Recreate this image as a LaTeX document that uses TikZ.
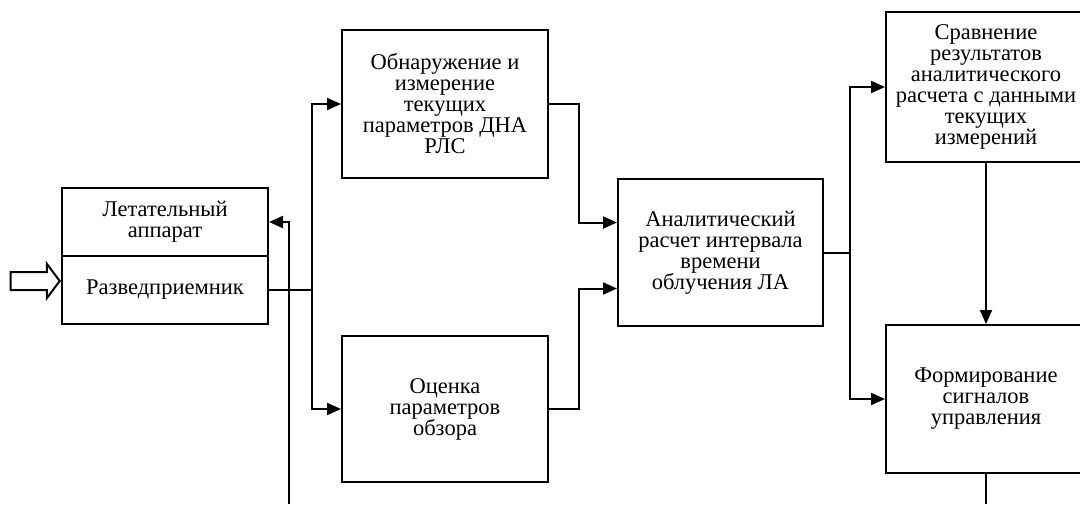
\documentclass[tikz,border=0pt]{standalone}
\usepackage{fontspec}
\setmainfont{Liberation Serif}
\usetikzlibrary{arrows.meta,shapes.arrows}
\tikzset{
  block/.style={draw, line width=2pt, align=center, inner sep=2pt,
    font=\fontsize{22.5}{21}\selectfont},
  link/.style={line width=2pt},
  arr/.style={link, -{Triangle[length=14pt,width=12pt]}}
}
\begin{document}
\begin{tikzpicture}[x=1pt, y=-1pt]
  \useasboundingbox (0,0) rectangle (1080,504);

  % Define blocks
  \node[block, minimum width=206pt, minimum height=68pt] (la) at (165,222) {Летательный\\аппарат};
  \node[block, minimum width=206pt, minimum height=68pt] (rp) at (165,290) {Разведприемник};
  \node[block, minimum width=206pt, minimum height=148pt] (obn) at (445,104)
    {Обнаружение и\\измерение\\текущих\\параметров ДНА\\РЛС};
  \node[block, minimum width=206pt, minimum height=146pt] (ocn) at (445,409)
    {Оценка\\параметров\\обзора};
  \node[block, minimum width=205pt, minimum height=147pt] (ana) at (720.5,252.5)
    {Аналитический\\расчет интервала\\времени\\облучения ЛА};
  \node[block, minimum width=200pt, minimum height=150pt] (srv) at (986,87)
    {Сравнение\\результатов\\аналитического\\расчета с данными\\текущих\\измерений};
  \node[block, minimum width=200pt, minimum height=148pt] (frm) at (986,399)
    {Формирование\\сигналов\\управления};

  % Input arrow
  \node[draw, line width=2pt, single arrow, inner sep=0pt, inner ysep=8pt,
    minimum height=49pt, single arrow head extend=8pt, single arrow tip angle=106,
    anchor=tip] (inarr) at ([yshift=9pt]rp.west) {};

  % Draw connections
  \coordinate (j1) at (312,290);
  \coordinate (fb) at (289,504);
  \draw[link] (rp.east) -- (j1);
  \draw[arr] (j1) |- (obn.west);
  \draw[arr] (j1) |- (ocn.west);
  \draw[arr] (fb) |- (la.east);

  \draw[arr] (obn.east) -- ++(30,0) |- ([yshift=30pt]ana.west);
  \draw[arr] (ocn.east) -- ++(30,0) |- ([yshift=-36pt]ana.west);

  \draw[link] (ana.east) -- ++(26,0) coordinate (j2);
  \draw[arr] (j2) |- (srv.west);
  \draw[arr] (j2) |- (frm.west);

  \draw[arr] (srv.south) -- (frm.north);
  \coordinate (out) at (frm.south |- fb);
  \draw[link] (frm.south) -- (out);
\end{tikzpicture}
\end{document}
